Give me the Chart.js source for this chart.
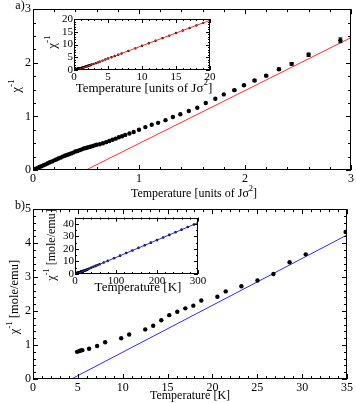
<!DOCTYPE html>
<html>
<head>
<meta charset="UTF-8"/>
<title>Inverse susceptibility</title>
<script src="https://cdn.jsdelivr.net/npm/chart.js"></script>
<style>
body { margin: 0; background: #fff; }
#wrap { position: relative; width: 356px; height: 403px; }
#wrap canvas { position: absolute; }
</style>
</head>
<body>
<div id="wrap">
    <canvas id="mainA" width="356" height="200" style="left:0;top:0"></canvas>
    <canvas id="insetA" width="180" height="90" style="left:40px;top:10px"></canvas>
    <canvas id="mainB" width="356" height="203" style="left:0;top:200px"></canvas>
    <canvas id="insetB" width="170" height="85" style="left:40px;top:210px"></canvas>
</div>
<script>
// panel a) simulation, T in units of J sigma^2
var tempA = [0.02,0.04,0.06,0.08,0.10,0.12,0.14,0.16,0.18,0.20,0.22,0.24,0.26,0.28,0.30,0.32,0.34,0.36,0.38,0.40,
             0.42,0.44,0.46,0.48,0.50,0.52,0.54,0.56,0.58,0.60,0.63,0.66,0.69,0.72,0.75,0.78,0.81,0.84,0.87,0.91,
             0.95,1.00,1.06,1.12,1.18,1.25,1.32,1.39,1.47,1.55,1.63,1.72,1.80,1.90,1.99,2.09,2.20,2.32,2.44,2.60,2.90];
var chiInvA = [0.02,0.035,0.055,0.07,0.09,0.105,0.125,0.145,0.16,0.18,0.195,0.215,0.23,0.25,0.265,0.28,0.295,0.31,0.325,0.345,
               0.355,0.37,0.385,0.40,0.41,0.425,0.435,0.445,0.46,0.47,0.48,0.50,0.52,0.54,0.565,0.585,0.61,0.63,0.655,0.68,
               0.71,0.75,0.80,0.845,0.88,0.93,0.99,1.04,1.10,1.16,1.25,1.33,1.41,1.49,1.58,1.67,1.76,1.88,1.98,2.15,2.42];
var errA = [0,0,0,0,0,0,0,0,0,0,0,0,0,0,0,0,0,0,0,0,
            0,0,0,0,0,0,0,0,0,0,0,0,0,0,0,0,0,0,0,0,
            0,0,0,0,0,0,0,0,0,0,0,0,0,0.015,0.015,0.015,0.02,0.02,0.025,0.03,0.045];
// high temperature part, only in the inset
var tempAHigh = [3.2,3.5,3.8,4.2,4.6,5,5.5,6,6.5,7,8,9,10,11,12,13,14,15,16,17,18,19,20];
var chiInvAHigh = [2.68,2.98,3.28,3.69,4.1,4.5,5.0,5.5,6.0,6.5,7.5,8.5,9.5,10.5,11.5,12.5,13.5,14.5,15.5,16.5,17.5,18.5,19.5];
var fitAT = [0.5, 3, 20];
var fitAChi = [0, 2.47, 19.5];

// panel b) experiment, T in K, chi^-1 in mole/emu
var tempB = [4.91,5.14,5.32,5.5,6.25,7.15,8.04,9.83,10.72,12.51,13.4,14.3,15.19,16.08,16.98,17.87,18.76,20.55,21.48,23.23,25.02,26.8,28.6,30.4,34.85];
var chiInvB = [0.80,0.82,0.84,0.85,0.89,0.97,1.08,1.20,1.31,1.46,1.57,1.73,1.88,1.98,2.08,2.16,2.31,2.42,2.58,2.73,2.90,3.09,3.44,3.67,4.33];
var tempBHigh = [40,45,50,55,60,70,80,95,110,125,140,155,170,185,200,215,230,245,260,275,290,300];
var chiInvBHigh = [5.1,5.75,6.45,7.1,7.8,9.15,10.5,12.6,14.65,16.75,18.8,20.85,22.9,25.0,27.05,29.1,31.2,33.3,35.4,37.45,39.5,40.9];
var fitBT = [4.28, 35, 300];
var fitBChi = [0, 4.24, 40.9];

// tick labels
var ticksAX = [0, 1, 2, 3];
var ticksAY = [0, 1, 2, 3];
var ticksAInset = [0, 5, 10, 15, 20];
var ticksBX = [0, 5, 10, 15, 20, 25, 30, 35];
var ticksBY = [0, 1, 2, 3, 4, 5];
var ticksBInsetX = [0, 100, 200, 300];
var ticksBInsetY = [0, 10, 20, 30, 40];

Chart.defaults.font.family = "'Liberation Serif', 'DejaVu Serif', serif";
Chart.defaults.color = '#000';

function pts(xs, ys) {
    return xs.map(function(x, i) { return {x: x, y: ys[i]}; });
}

// box around the plot with inward ticks on all four sides
var frameTicks = {
    id: 'frameTicks',
    afterDraw: function(chart, args, o) {
        var ctx = chart.ctx, a = chart.chartArea, sx = chart.scales.x, sy = chart.scales.y;
        ctx.save();
        ctx.strokeStyle = '#000';
        ctx.lineWidth = 1;
        ctx.strokeRect(Math.round(a.left) + 0.5, Math.round(a.top) + 0.5,
                       Math.round(a.right - a.left) - 1, Math.round(a.bottom - a.top) - 1);
        ctx.beginPath();
        var n = Math.round((sx.max - sx.min) / o.xMinor);
        for (var i = 0; i <= n; i++) {
            var v = sx.min + i * o.xMinor;
            var major = Math.abs(v / o.xMajor - Math.round(v / o.xMajor)) < 1e-6;
            var len = major ? o.major : o.minor;
            var px = Math.round(sx.getPixelForValue(v)) + 0.5;
            ctx.moveTo(px, a.bottom); ctx.lineTo(px, a.bottom - len);
            ctx.moveTo(px, a.top); ctx.lineTo(px, a.top + len);
        }
        n = Math.round((sy.max - sy.min) / o.yMinor);
        for (var j = 0; j <= n; j++) {
            var w = sy.min + j * o.yMinor;
            var majorY = Math.abs(w / o.yMajor - Math.round(w / o.yMajor)) < 1e-6;
            var lenY = majorY ? o.major : o.minor;
            var py = Math.round(sy.getPixelForValue(w)) + 0.5;
            ctx.moveTo(a.left, py); ctx.lineTo(a.left + lenY, py);
            ctx.moveTo(a.right, py); ctx.lineTo(a.right - lenY, py);
        }
        ctx.stroke();
        ctx.restore();
    }
};

// axis titles with superscripts
var richLabels = {
    id: 'richLabels',
    afterDraw: function(chart, args, o) {
        var ctx = chart.ctx;
        (o.items || []).forEach(function(it) {
            var fam = Chart.defaults.font.family;
            var supSize = it.size * 0.7;
            ctx.save();
            ctx.translate(it.x, it.y);
            if (it.rot) ctx.rotate(it.rot);
            ctx.fillStyle = '#000';
            ctx.textBaseline = 'middle';
            ctx.textAlign = 'left';
            var total = 0;
            it.parts.forEach(function(p) {
                ctx.font = (p[1] ? supSize : it.size) + 'px ' + fam;
                total += ctx.measureText(p[0]).width;
            });
            var cx = -total / 2;
            it.parts.forEach(function(p) {
                ctx.font = (p[1] ? supSize : it.size) + 'px ' + fam;
                ctx.fillText(p[0], cx, p[1] ? -it.size * 0.42 : 0);
                cx += ctx.measureText(p[0]).width;
            });
            ctx.restore();
        });
    }
};

var errorBars = {
    id: 'errorBars',
    afterDatasetsDraw: function(chart) {
        var ctx = chart.ctx, sx = chart.scales.x, sy = chart.scales.y;
        ctx.save();
        ctx.strokeStyle = '#000';
        ctx.lineWidth = 1;
        chart.data.datasets.forEach(function(ds) {
            if (!ds.errors) return;
            ds.data.forEach(function(p, i) {
                var e = ds.errors[i];
                if (!e) return;
                var px = sx.getPixelForValue(p.x);
                var y1 = sy.getPixelForValue(p.y - e), y2 = sy.getPixelForValue(p.y + e);
                ctx.beginPath();
                ctx.moveTo(px, y1); ctx.lineTo(px, y2);
                ctx.moveTo(px - 2, y1); ctx.lineTo(px + 2, y1);
                ctx.moveTo(px - 2, y2); ctx.lineTo(px + 2, y2);
                ctx.stroke();
            });
        });
        ctx.restore();
    }
};

function build(id, o) {
    return new Chart(document.getElementById(id), {
        type: 'scatter',
        data: { datasets: o.datasets },
        options: {
            responsive: false,
            animation: false,
            devicePixelRatio: 1,
            events: [],
            layout: { padding: o.pad },
            plugins: {
                legend: { display: false },
                tooltip: { enabled: false },
                frameTicks: o.frame,
                richLabels: { items: o.labels }
            },
            scales: {
                x: {
                    type: 'linear', min: o.xRange[0], max: o.xRange[1],
                    grid: { display: false, drawTicks: false }, border: { display: false },
                    ticks: { padding: o.tickPad, font: { size: o.tickSize }, maxRotation: 0, autoSkip: false },
                    afterBuildTicks: function(s) { s.ticks = o.xTicks.map(function(v) { return {value: v}; }); },
                    afterFit: function(s) { s.height = o.xHeight; }
                },
                y: {
                    type: 'linear', min: o.yRange[0], max: o.yRange[1],
                    grid: { display: false, drawTicks: false }, border: { display: false },
                    ticks: { padding: o.tickPad, font: { size: o.tickSize }, autoSkip: false },
                    afterBuildTicks: function(s) { s.ticks = o.yTicks.map(function(v) { return {value: v}; }); },
                    afterFit: function(s) { s.width = o.yWidth; }
                }
            }
        },
        plugins: [frameTicks, richLabels, errorBars]
    });
}

function dots(data, r, errs) {
    return { data: data, pointRadius: r, pointBackgroundColor: '#000', pointBorderWidth: 0, showLine: false, errors: errs };
}
function fitLine(data, color) {
    return { data: data, showLine: true, borderColor: color, borderWidth: 1, pointRadius: 0, fill: false };
}

var RED = '#ff2a2a', BLUE = '#2a2aff';

build('mainA', {
    datasets: [
        dots(pts(tempA, chiInvA), 2.2, errA),
        fitLine(pts(fitAT.slice(0, 2), fitAChi.slice(0, 2)), RED)
    ],
    pad: { left: 0, top: 7, right: 4, bottom: 0 },
    xRange: [0, 3], yRange: [0, 3], xTicks: ticksAX, yTicks: ticksAY,
    xHeight: 30, yWidth: 33, tickPad: 2, tickSize: 12,
    frame: { xMinor: 0.2, xMajor: 1, yMinor: 0.25, yMajor: 1, major: 5, minor: 3 },
    labels: [
        { parts: [['a)']], x: 20, y: 6, size: 12 },
        { parts: [['Temperature [units of Jσ'], ['2', 1], [']']], x: 194, y: 194, size: 12 },
        { parts: [['χ'], ['-1', 1]], x: 17, y: 86, size: 13, rot: -Math.PI / 2 }
    ]
});

build('insetA', {
    datasets: [
        fitLine(pts([fitAT[0], fitAT[2]], [fitAChi[0], fitAChi[2]]), RED),
        dots(pts(tempA.concat(tempAHigh), chiInvA.concat(chiInvAHigh)), 1.2)
    ],
    pad: { left: 0, top: 9, right: 10, bottom: 0 },
    xRange: [0, 20], yRange: [0, 20], xTicks: ticksAInset, yTicks: ticksAInset,
    xHeight: 30, yWidth: 34, tickPad: 1, tickSize: 11,
    frame: { xMinor: 1, xMajor: 5, yMinor: 1, yMajor: 5, major: 4, minor: 2 },
    labels: [
        { parts: [['Temperature [units of Jσ'], ['2', 1], [']']], x: 104, y: 78.5, size: 13 },
        { parts: [['χ'], ['-1', 1]], x: 13, y: 32, size: 13, rot: -Math.PI / 2 }
    ]
});

build('mainB', {
    datasets: [
        dots(pts(tempB, chiInvB), 2.2),
        fitLine(pts(fitBT.slice(0, 2), fitBChi.slice(0, 2)), BLUE)
    ],
    pad: { left: 0, top: 7, right: 9, bottom: 0 },
    xRange: [0, 35], yRange: [0, 5], xTicks: ticksBX, yTicks: ticksBY,
    xHeight: 24, yWidth: 33, tickPad: 2, tickSize: 12,
    frame: { xMinor: 1, xMajor: 5, yMinor: 0.2, yMajor: 1, major: 5, minor: 3 },
    labels: [
        { parts: [['b)']], x: 20, y: 6, size: 12 },
        { parts: [['Temperature [K]']], x: 190, y: 196, size: 12 },
        { parts: [['χ'], ['-1', 1], [' [mole/emu]']], x: 15, y: 97, size: 12.5, rot: -Math.PI / 2 }
    ]
});

build('insetB', {
    datasets: [
        fitLine(pts([fitBT[0], fitBT[2]], [fitBChi[0], fitBChi[2]]), BLUE),
        dots(pts(tempB.concat(tempBHigh), chiInvB.concat(chiInvBHigh)), 1.3)
    ],
    pad: { left: 0, top: 6, right: 12, bottom: 0 },
    xRange: [0, 300], yRange: [0, 45], xTicks: ticksBInsetX, yTicks: ticksBInsetY,
    xHeight: 21, yWidth: 35, tickPad: 1, tickSize: 11,
    frame: { xMinor: 20, xMajor: 100, yMinor: 5, yMajor: 10, major: 4, minor: 2 },
    labels: [
        { parts: [['Temperature [K]']], x: 98, y: 78, size: 13 },
        { parts: [['χ'], ['-1', 1], [' [mole/emu]']], x: 12, y: 35, size: 12, rot: -Math.PI / 2 }
    ]
});
</script>
</body>
</html>
